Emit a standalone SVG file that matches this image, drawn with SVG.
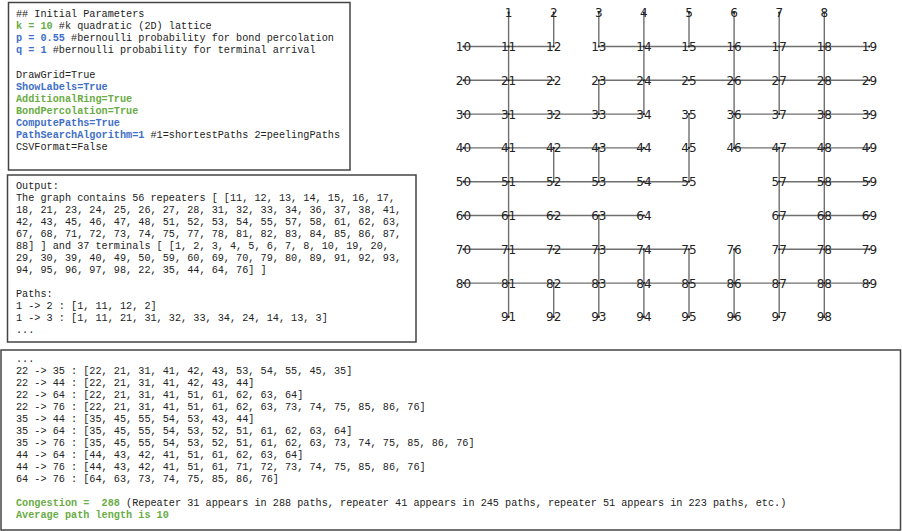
<svg xmlns="http://www.w3.org/2000/svg" width="902" height="531" viewBox="0 0 902 531">
  <style>
    .box { fill: #ffffff; stroke: #444444; stroke-width: 1.5; }
    .mono { font-family: "Liberation Mono", "DejaVu Sans Mono", monospace; font-size: 10.2px; fill: #222222; }
    .g { fill: #6aac45; font-weight: bold; }
    .b { fill: #3f6fc8; font-weight: bold; }
    .edge { fill: none; stroke: #6f6f6f; stroke-width: 1.4; }
    .node circle { fill: #222222; }
    .node text { font-family: "DejaVu Sans", sans-serif; font-size: 12px; fill: #222222; text-anchor: middle; }
  </style>

  <!-- parameter panel -->
  <g id="params">
    <rect class="box" x="8.5" y="2.5" width="341.5" height="167.5"/>
    <text class="mono" xml:space="preserve">
      <tspan x="16" y="17">## Initial Parameters</tspan>
      <tspan x="16" y="29.1"><tspan class="g">k = 10</tspan> #k quadratic (2D) lattice</tspan>
      <tspan x="16" y="41.2"><tspan class="b">p = 0.55</tspan> #bernoulli probability for bond percolation</tspan>
      <tspan x="16" y="53.3"><tspan class="b">q = 1</tspan> #bernoulli probability for terminal arrival</tspan>
      <tspan x="16" y="77.5">DrawGrid=True</tspan>
      <tspan x="16" y="89.6" class="b">ShowLabels=True</tspan>
      <tspan x="16" y="101.7" class="g">AdditionalRing=True</tspan>
      <tspan x="16" y="113.8" class="g">BondPercolation=True</tspan>
      <tspan x="16" y="125.9" class="b">ComputePaths=True</tspan>
      <tspan x="16" y="138"><tspan class="b">PathSearchAlgorithm=1</tspan> #1=shortestPaths 2=peelingPaths</tspan>
      <tspan x="16" y="150.1">CSVFormat=False</tspan>
    </text>
  </g>

  <!-- output panel -->
  <g id="output">
    <rect class="box" x="7.5" y="175" width="408.5" height="167"/>
    <text class="mono" xml:space="preserve">
      <tspan x="16" y="189">Output:</tspan>
      <tspan x="16" y="201">The graph contains 56 repeaters [ [11, 12, 13, 14, 15, 16, 17,</tspan>
      <tspan x="16" y="213">18, 21, 23, 24, 25, 26, 27, 28, 31, 32, 33, 34, 36, 37, 38, 41,</tspan>
      <tspan x="16" y="225">42, 43, 45, 46, 47, 48, 51, 52, 53, 54, 55, 57, 58, 61, 62, 63,</tspan>
      <tspan x="16" y="237">67, 68, 71, 72, 73, 74, 75, 77, 78, 81, 82, 83, 84, 85, 86, 87,</tspan>
      <tspan x="16" y="249">88] ] and 37 terminals [ [1, 2, 3, 4, 5, 6, 7, 8, 10, 19, 20,</tspan>
      <tspan x="16" y="261">29, 30, 39, 40, 49, 50, 59, 60, 69, 70, 79, 80, 89, 91, 92, 93,</tspan>
      <tspan x="16" y="273">94, 95, 96, 97, 98, 22, 35, 44, 64, 76] ]</tspan>
      <tspan x="16" y="297">Paths:</tspan>
      <tspan x="16" y="309">1 -&gt; 2 : [1, 11, 12, 2]</tspan>
      <tspan x="16" y="321">1 -&gt; 3 : [1, 11, 21, 31, 32, 33, 34, 24, 14, 13, 3]</tspan>
      <tspan x="16" y="333">...</tspan>
    </text>
  </g>

  <!-- path listing panel -->
  <g id="paths">
    <rect class="box" x="1" y="350" width="899.5" height="180"/>
    <text class="mono" xml:space="preserve">
      <tspan x="16" y="362">...</tspan>
      <tspan x="16" y="374">22 -&gt; 35 : [22, 21, 31, 41, 42, 43, 53, 54, 55, 45, 35]</tspan>
      <tspan x="16" y="386">22 -&gt; 44 : [22, 21, 31, 41, 42, 43, 44]</tspan>
      <tspan x="16" y="398">22 -&gt; 64 : [22, 21, 31, 41, 51, 61, 62, 63, 64]</tspan>
      <tspan x="16" y="410">22 -&gt; 76 : [22, 21, 31, 41, 51, 61, 62, 63, 73, 74, 75, 85, 86, 76]</tspan>
      <tspan x="16" y="422">35 -&gt; 44 : [35, 45, 55, 54, 53, 43, 44]</tspan>
      <tspan x="16" y="434">35 -&gt; 64 : [35, 45, 55, 54, 53, 52, 51, 61, 62, 63, 64]</tspan>
      <tspan x="16" y="446">35 -&gt; 76 : [35, 45, 55, 54, 53, 52, 51, 61, 62, 63, 73, 74, 75, 85, 86, 76]</tspan>
      <tspan x="16" y="458">44 -&gt; 64 : [44, 43, 42, 41, 51, 61, 62, 63, 64]</tspan>
      <tspan x="16" y="470">44 -&gt; 76 : [44, 43, 42, 41, 51, 61, 71, 72, 73, 74, 75, 85, 86, 76]</tspan>
      <tspan x="16" y="482">64 -&gt; 76 : [64, 63, 73, 74, 75, 85, 86, 76]</tspan>
      <tspan x="16" y="506"><tspan class="g">Congestion =  288</tspan> (Repeater 31 appears in 288 paths, repeater 41 appears in 245 paths, repeater 51 appears in 223 paths, etc.)</tspan>
      <tspan x="16" y="518" class="g">Average path length is 10</tspan>
    </text>
  </g>

  <!-- lattice bonds that survived percolation -->
  <g id="edges">
    <path class="edge" d="M463.5 46.5H553.7M598.8 46.5H869.4"/>
    <path class="edge" d="M463.5 80.3H553.7M598.8 80.3H869.4"/>
    <path class="edge" d="M463.5 114.1H643.9M734.1 114.1H869.4"/>
    <path class="edge" d="M463.5 147.9H643.9M734.1 147.9H869.4"/>
    <path class="edge" d="M463.5 181.7H689M779.2 181.7H869.4"/>
    <path class="edge" d="M463.5 215.5H643.9M779.2 215.5H869.4"/>
    <path class="edge" d="M463.5 249.3H689M779.2 249.3H869.4"/>
    <path class="edge" d="M463.5 283.1H869.4"/>
    <path class="edge" d="M508.6 12.7V316.9"/>
    <path class="edge" d="M553.7 12.7V46.5M553.7 147.9V181.7M553.7 283.1V316.9"/>
    <path class="edge" d="M598.8 12.7V46.5M598.8 80.3V114.1M598.8 147.9V181.7M598.8 215.5V316.9"/>
    <path class="edge" d="M643.9 12.7V114.1M643.9 249.3V316.9"/>
    <path class="edge" d="M689 12.7V46.5M689 114.1V181.7M689 249.3V316.9"/>
    <path class="edge" d="M734.1 12.7V147.9M734.1 249.3V316.9"/>
    <path class="edge" d="M779.2 12.7V114.1M779.2 147.9V316.9"/>
    <path class="edge" d="M824.3 12.7V316.9"/>
  </g>

  <!-- lattice nodes -->
  <g id="nodes">
    <g id="n1" class="node"><circle cx="508.6" cy="12.7" r="1.1"/><text x="508.6" y="17.1">1</text></g>
    <g id="n2" class="node"><circle cx="553.7" cy="12.7" r="1.1"/><text x="553.7" y="17.1">2</text></g>
    <g id="n3" class="node"><circle cx="598.8" cy="12.7" r="1.1"/><text x="598.8" y="17.1">3</text></g>
    <g id="n4" class="node"><circle cx="643.9" cy="12.7" r="1.1"/><text x="643.9" y="17.1">4</text></g>
    <g id="n5" class="node"><circle cx="689" cy="12.7" r="1.1"/><text x="689" y="17.1">5</text></g>
    <g id="n6" class="node"><circle cx="734.1" cy="12.7" r="1.1"/><text x="734.1" y="17.1">6</text></g>
    <g id="n7" class="node"><circle cx="779.2" cy="12.7" r="1.1"/><text x="779.2" y="17.1">7</text></g>
    <g id="n8" class="node"><circle cx="824.3" cy="12.7" r="1.1"/><text x="824.3" y="17.1">8</text></g>

    <g id="n10" class="node"><circle cx="463.5" cy="46.5" r="1.1"/><text x="463.5" y="50.9">10</text></g>
    <g id="n11" class="node"><circle cx="508.6" cy="46.5" r="1.1"/><text x="508.6" y="50.9">11</text></g>
    <g id="n12" class="node"><circle cx="553.7" cy="46.5" r="1.1"/><text x="553.7" y="50.9">12</text></g>
    <g id="n13" class="node"><circle cx="598.8" cy="46.5" r="1.1"/><text x="598.8" y="50.9">13</text></g>
    <g id="n14" class="node"><circle cx="643.9" cy="46.5" r="1.1"/><text x="643.9" y="50.9">14</text></g>
    <g id="n15" class="node"><circle cx="689" cy="46.5" r="1.1"/><text x="689" y="50.9">15</text></g>
    <g id="n16" class="node"><circle cx="734.1" cy="46.5" r="1.1"/><text x="734.1" y="50.9">16</text></g>
    <g id="n17" class="node"><circle cx="779.2" cy="46.5" r="1.1"/><text x="779.2" y="50.9">17</text></g>
    <g id="n18" class="node"><circle cx="824.3" cy="46.5" r="1.1"/><text x="824.3" y="50.9">18</text></g>
    <g id="n19" class="node"><circle cx="869.4" cy="46.5" r="1.1"/><text x="869.4" y="50.9">19</text></g>

    <g id="n20" class="node"><circle cx="463.5" cy="80.3" r="1.1"/><text x="463.5" y="84.7">20</text></g>
    <g id="n21" class="node"><circle cx="508.6" cy="80.3" r="1.1"/><text x="508.6" y="84.7">21</text></g>
    <g id="n22" class="node"><circle cx="553.7" cy="80.3" r="1.1"/><text x="553.7" y="84.7">22</text></g>
    <g id="n23" class="node"><circle cx="598.8" cy="80.3" r="1.1"/><text x="598.8" y="84.7">23</text></g>
    <g id="n24" class="node"><circle cx="643.9" cy="80.3" r="1.1"/><text x="643.9" y="84.7">24</text></g>
    <g id="n25" class="node"><circle cx="689" cy="80.3" r="1.1"/><text x="689" y="84.7">25</text></g>
    <g id="n26" class="node"><circle cx="734.1" cy="80.3" r="1.1"/><text x="734.1" y="84.7">26</text></g>
    <g id="n27" class="node"><circle cx="779.2" cy="80.3" r="1.1"/><text x="779.2" y="84.7">27</text></g>
    <g id="n28" class="node"><circle cx="824.3" cy="80.3" r="1.1"/><text x="824.3" y="84.7">28</text></g>
    <g id="n29" class="node"><circle cx="869.4" cy="80.3" r="1.1"/><text x="869.4" y="84.7">29</text></g>

    <g id="n30" class="node"><circle cx="463.5" cy="114.1" r="1.1"/><text x="463.5" y="118.5">30</text></g>
    <g id="n31" class="node"><circle cx="508.6" cy="114.1" r="1.1"/><text x="508.6" y="118.5">31</text></g>
    <g id="n32" class="node"><circle cx="553.7" cy="114.1" r="1.1"/><text x="553.7" y="118.5">32</text></g>
    <g id="n33" class="node"><circle cx="598.8" cy="114.1" r="1.1"/><text x="598.8" y="118.5">33</text></g>
    <g id="n34" class="node"><circle cx="643.9" cy="114.1" r="1.1"/><text x="643.9" y="118.5">34</text></g>
    <g id="n35" class="node"><circle cx="689" cy="114.1" r="1.1"/><text x="689" y="118.5">35</text></g>
    <g id="n36" class="node"><circle cx="734.1" cy="114.1" r="1.1"/><text x="734.1" y="118.5">36</text></g>
    <g id="n37" class="node"><circle cx="779.2" cy="114.1" r="1.1"/><text x="779.2" y="118.5">37</text></g>
    <g id="n38" class="node"><circle cx="824.3" cy="114.1" r="1.1"/><text x="824.3" y="118.5">38</text></g>
    <g id="n39" class="node"><circle cx="869.4" cy="114.1" r="1.1"/><text x="869.4" y="118.5">39</text></g>

    <g id="n40" class="node"><circle cx="463.5" cy="147.9" r="1.1"/><text x="463.5" y="152.3">40</text></g>
    <g id="n41" class="node"><circle cx="508.6" cy="147.9" r="1.1"/><text x="508.6" y="152.3">41</text></g>
    <g id="n42" class="node"><circle cx="553.7" cy="147.9" r="1.1"/><text x="553.7" y="152.3">42</text></g>
    <g id="n43" class="node"><circle cx="598.8" cy="147.9" r="1.1"/><text x="598.8" y="152.3">43</text></g>
    <g id="n44" class="node"><circle cx="643.9" cy="147.9" r="1.1"/><text x="643.9" y="152.3">44</text></g>
    <g id="n45" class="node"><circle cx="689" cy="147.9" r="1.1"/><text x="689" y="152.3">45</text></g>
    <g id="n46" class="node"><circle cx="734.1" cy="147.9" r="1.1"/><text x="734.1" y="152.3">46</text></g>
    <g id="n47" class="node"><circle cx="779.2" cy="147.9" r="1.1"/><text x="779.2" y="152.3">47</text></g>
    <g id="n48" class="node"><circle cx="824.3" cy="147.9" r="1.1"/><text x="824.3" y="152.3">48</text></g>
    <g id="n49" class="node"><circle cx="869.4" cy="147.9" r="1.1"/><text x="869.4" y="152.3">49</text></g>

    <g id="n50" class="node"><circle cx="463.5" cy="181.7" r="1.1"/><text x="463.5" y="186.1">50</text></g>
    <g id="n51" class="node"><circle cx="508.6" cy="181.7" r="1.1"/><text x="508.6" y="186.1">51</text></g>
    <g id="n52" class="node"><circle cx="553.7" cy="181.7" r="1.1"/><text x="553.7" y="186.1">52</text></g>
    <g id="n53" class="node"><circle cx="598.8" cy="181.7" r="1.1"/><text x="598.8" y="186.1">53</text></g>
    <g id="n54" class="node"><circle cx="643.9" cy="181.7" r="1.1"/><text x="643.9" y="186.1">54</text></g>
    <g id="n55" class="node"><circle cx="689" cy="181.7" r="1.1"/><text x="689" y="186.1">55</text></g>
    <g id="n57" class="node"><circle cx="779.2" cy="181.7" r="1.1"/><text x="779.2" y="186.1">57</text></g>
    <g id="n58" class="node"><circle cx="824.3" cy="181.7" r="1.1"/><text x="824.3" y="186.1">58</text></g>
    <g id="n59" class="node"><circle cx="869.4" cy="181.7" r="1.1"/><text x="869.4" y="186.1">59</text></g>

    <g id="n60" class="node"><circle cx="463.5" cy="215.5" r="1.1"/><text x="463.5" y="219.9">60</text></g>
    <g id="n61" class="node"><circle cx="508.6" cy="215.5" r="1.1"/><text x="508.6" y="219.9">61</text></g>
    <g id="n62" class="node"><circle cx="553.7" cy="215.5" r="1.1"/><text x="553.7" y="219.9">62</text></g>
    <g id="n63" class="node"><circle cx="598.8" cy="215.5" r="1.1"/><text x="598.8" y="219.9">63</text></g>
    <g id="n64" class="node"><circle cx="643.9" cy="215.5" r="1.1"/><text x="643.9" y="219.9">64</text></g>
    <g id="n67" class="node"><circle cx="779.2" cy="215.5" r="1.1"/><text x="779.2" y="219.9">67</text></g>
    <g id="n68" class="node"><circle cx="824.3" cy="215.5" r="1.1"/><text x="824.3" y="219.9">68</text></g>
    <g id="n69" class="node"><circle cx="869.4" cy="215.5" r="1.1"/><text x="869.4" y="219.9">69</text></g>

    <g id="n70" class="node"><circle cx="463.5" cy="249.3" r="1.1"/><text x="463.5" y="253.7">70</text></g>
    <g id="n71" class="node"><circle cx="508.6" cy="249.3" r="1.1"/><text x="508.6" y="253.7">71</text></g>
    <g id="n72" class="node"><circle cx="553.7" cy="249.3" r="1.1"/><text x="553.7" y="253.7">72</text></g>
    <g id="n73" class="node"><circle cx="598.8" cy="249.3" r="1.1"/><text x="598.8" y="253.7">73</text></g>
    <g id="n74" class="node"><circle cx="643.9" cy="249.3" r="1.1"/><text x="643.9" y="253.7">74</text></g>
    <g id="n75" class="node"><circle cx="689" cy="249.3" r="1.1"/><text x="689" y="253.7">75</text></g>
    <g id="n76" class="node"><circle cx="734.1" cy="249.3" r="1.1"/><text x="734.1" y="253.7">76</text></g>
    <g id="n77" class="node"><circle cx="779.2" cy="249.3" r="1.1"/><text x="779.2" y="253.7">77</text></g>
    <g id="n78" class="node"><circle cx="824.3" cy="249.3" r="1.1"/><text x="824.3" y="253.7">78</text></g>
    <g id="n79" class="node"><circle cx="869.4" cy="249.3" r="1.1"/><text x="869.4" y="253.7">79</text></g>

    <g id="n80" class="node"><circle cx="463.5" cy="283.1" r="1.1"/><text x="463.5" y="287.5">80</text></g>
    <g id="n81" class="node"><circle cx="508.6" cy="283.1" r="1.1"/><text x="508.6" y="287.5">81</text></g>
    <g id="n82" class="node"><circle cx="553.7" cy="283.1" r="1.1"/><text x="553.7" y="287.5">82</text></g>
    <g id="n83" class="node"><circle cx="598.8" cy="283.1" r="1.1"/><text x="598.8" y="287.5">83</text></g>
    <g id="n84" class="node"><circle cx="643.9" cy="283.1" r="1.1"/><text x="643.9" y="287.5">84</text></g>
    <g id="n85" class="node"><circle cx="689" cy="283.1" r="1.1"/><text x="689" y="287.5">85</text></g>
    <g id="n86" class="node"><circle cx="734.1" cy="283.1" r="1.1"/><text x="734.1" y="287.5">86</text></g>
    <g id="n87" class="node"><circle cx="779.2" cy="283.1" r="1.1"/><text x="779.2" y="287.5">87</text></g>
    <g id="n88" class="node"><circle cx="824.3" cy="283.1" r="1.1"/><text x="824.3" y="287.5">88</text></g>
    <g id="n89" class="node"><circle cx="869.4" cy="283.1" r="1.1"/><text x="869.4" y="287.5">89</text></g>

    <g id="n91" class="node"><circle cx="508.6" cy="316.9" r="1.1"/><text x="508.6" y="321.3">91</text></g>
    <g id="n92" class="node"><circle cx="553.7" cy="316.9" r="1.1"/><text x="553.7" y="321.3">92</text></g>
    <g id="n93" class="node"><circle cx="598.8" cy="316.9" r="1.1"/><text x="598.8" y="321.3">93</text></g>
    <g id="n94" class="node"><circle cx="643.9" cy="316.9" r="1.1"/><text x="643.9" y="321.3">94</text></g>
    <g id="n95" class="node"><circle cx="689" cy="316.9" r="1.1"/><text x="689" y="321.3">95</text></g>
    <g id="n96" class="node"><circle cx="734.1" cy="316.9" r="1.1"/><text x="734.1" y="321.3">96</text></g>
    <g id="n97" class="node"><circle cx="779.2" cy="316.9" r="1.1"/><text x="779.2" y="321.3">97</text></g>
    <g id="n98" class="node"><circle cx="824.3" cy="316.9" r="1.1"/><text x="824.3" y="321.3">98</text></g>
  </g>
</svg>
